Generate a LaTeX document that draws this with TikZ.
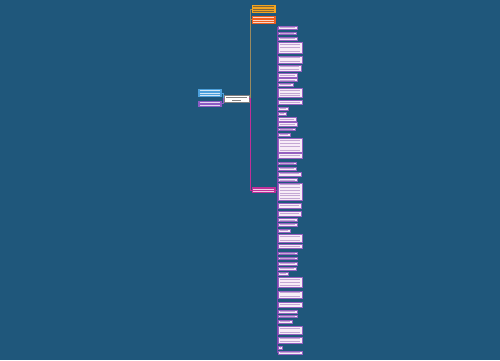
\documentclass[tikz,border=0pt]{standalone}
\usetikzlibrary{calc}
\definecolor{bg}{HTML}{1F577B}
\definecolor{pinkfill}{HTML}{F7ECF7}
\definecolor{pinkedge}{HTML}{9560C0}
\definecolor{plink}{HTML}{8043B0}
\definecolor{olink}{HTML}{9A8A60}
\definecolor{orangeA}{HTML}{F2A41E}
\definecolor{orangeB}{HTML}{EE5E1E}
\definecolor{blueA}{HTML}{4BA0DC}
\definecolor{purpA}{HTML}{8C5BC4}
\definecolor{magA}{HTML}{C02F98}
\definecolor{txtline}{HTML}{C4A8D4}
\tikzset{
  rbox/.style={draw=pinkedge, fill=pinkfill, line width=0.4pt, inner sep=0pt, outer sep=0pt, rectangle},
  cbox/.style={inner sep=0pt, outer sep=0pt, rectangle, line width=0.5pt},
  plinkst/.style={draw=plink, line width=1pt},
  olinkst/.style={draw=olink, line width=0.8pt},
  tline/.style={draw=txtline, line width=0.55pt},
  wline/.style={draw=white, line width=0.6pt, opacity=0.75},
  dline/.style={draw=black!70, line width=0.6pt, opacity=0.7}
}
% right-column box: name, ytop, ybot, xright
\newcommand\rb[4]{%
  \node[rbox, minimum width={(#4-278)*1pt}, minimum height={(#3-#2)*1pt}, anchor=north west] (#1) at (278,#2) {};
  \draw[plinkst] (mag.east) -- ++(1.2,0) |- (#1.west);
  \pgfmathtruncatemacro\nl{max(1,floor((#3-#2-0.8)/2.6))}
  \foreach \k in {1,...,\nl}{
    \draw[tline] ($(#1.north west)+(1.6,{0.3+(\k-0.5)*(#3-#2-0.6)/\nl})$) -- ++({#4-278-3.2},0);
  }
}
% colored box with filler lines: name, x1, y1, x2, y2, fill, linestyle, nlines
\newcommand\cb[8]{%
  \node[cbox, fill=#6, minimum width={(#4-#2)*1pt}, minimum height={(#5-#3)*1pt}, anchor=north west] (#1) at (#2,#3) {};
  \foreach \k in {1,...,#8}{
    \draw[#7] ($(#1.north west)+(1.6,{0.4+(\k-0.5)*(#5-#3-0.8)/#8})$) -- ++({#4-#2-3.2},0);
  }
}
\begin{document}
\begin{tikzpicture}[x=1pt,y=-1pt]
\fill[bg] (0,0) rectangle (500,360);
\useasboundingbox (0,0) rectangle (500,360);
% root
\node[cbox, draw=black!50, fill=white, minimum width=25pt, minimum height=7pt, anchor=north west] (root) at (224,95) {};
\draw[dline] (226,97.2) -- (247,97.2);
\draw[dline] (232,99.8) -- (241,99.8);
% left nodes
\cb{lb}{198}{88.7}{222}{97.3}{blueA}{wline}{3}
\cb{lp}{198}{100.7}{222}{106.7}{purpA}{wline}{2}
\draw[draw=blueA, line width=0.8pt] (root.west) -- ++(-1,0) |- (lb.east);
\draw[draw=purpA, line width=0.8pt] (root.west) -- ++(-1,0) |- (lp.east);
% top right nodes
\cb{oa}{251.7}{5}{276}{13.3}{orangeA}{dline}{3}
\cb{ob}{251.7}{15.7}{276}{24}{orangeB}{wline}{3}
\draw[olinkst] (root.east) -- ++(1.5,0) |- (oa.west);
\draw[olinkst] (root.east) -- ++(1.5,0) |- (ob.west);
% magenta node
\cb{mag}{251.7}{187.3}{276}{193.3}{magA}{wline}{2}
\draw[draw=magA, line width=0.8pt] (root.east) -- ++(1.5,0) |- (mag.west);
% right column
\rb{r1}{26}{29}{297}
\rb{r2}{31.7}{34.3}{296}
\rb{r3}{36.7}{39.7}{297}
\rb{r4}{42}{53}{302}
\rb{r5}{55.7}{63}{302}
\rb{r6}{65}{71}{301}
\rb{r7}{73.3}{76.7}{297}
\rb{r8}{78.3}{81.3}{297}
\rb{r9}{82.7}{86}{293}
\rb{r10}{88.3}{97.3}{302}
\rb{r11}{100}{104}{302}
\rb{r12}{107.3}{110}{288}
\rb{r13}{112.3}{115}{286}
\rb{r14}{117.3}{120.7}{296}
\rb{r15}{122}{126}{297}
\rb{r16}{127.8}{130.6}{295}
\rb{r17}{132.7}{136}{290}
\rb{r18}{138.3}{151.7}{302}
\rb{r19}{153.3}{158}{302}
\rb{r20}{161.7}{164.3}{296}
\rb{r21}{166.7}{170}{296}
\rb{r22}{171.7}{175.7}{301}
\rb{r23}{178.3}{181.5}{297}
\rb{r24}{183}{200}{302}
\rb{r25}{202.7}{208.3}{301}
\rb{r26}{210.7}{216}{301}
\rb{r27}{218.3}{221.3}{297}
\rb{r28}{222.7}{225.7}{297}
\rb{r29}{228.7}{231.7}{290}
\rb{r30}{234}{242.5}{302}
\rb{r31}{244.2}{248.3}{302}
\rb{r32}{251.7}{254.3}{297}
\rb{r33}{256.7}{259.3}{297}
\rb{r34}{262}{264.7}{297}
\rb{r35}{267.3}{270}{296}
\rb{r36}{272}{274.7}{288}
\rb{r37}{277.3}{286.7}{302}
\rb{r38}{290.7}{298.3}{302}
\rb{r39}{301.7}{307.3}{302}
\rb{r40}{310}{312.7}{297}
\rb{r41}{314.7}{317.3}{297}
\rb{r42}{320}{322.7}{292}
\rb{r43}{326}{334}{302}
\rb{r44}{336.7}{343.3}{302}
\rb{r45}{346}{348.7}{282}
\rb{r46}{350.7}{354}{302}
\end{tikzpicture}
\end{document}
